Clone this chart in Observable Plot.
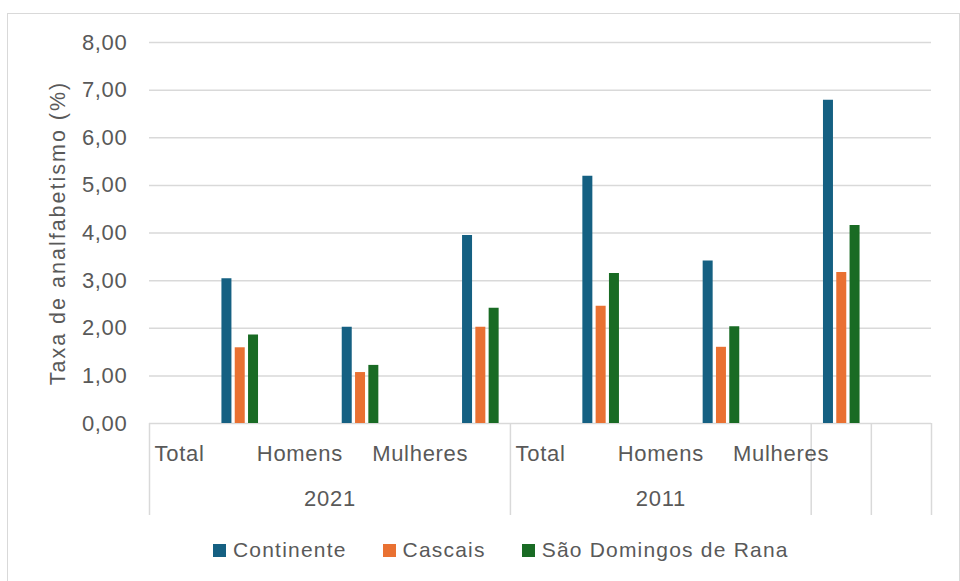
<!DOCTYPE html>
<html>
<head>
<meta charset="utf-8">
<script src="https://cdn.jsdelivr.net/npm/d3@7"></script>
<script src="https://cdn.jsdelivr.net/npm/@observablehq/plot@0.6"></script>
<style>
  body { margin: 0; background: #fff; }
  #chart { position: relative; width: 960px; height: 581px; overflow: hidden; }
  #box { position: absolute; left: 7px; top: 13px; width: 953px; height: 580px; border: 1.5px solid #d9d9d9; box-sizing: border-box; }
  #plot { position: absolute; left: 0; top: 0; }
  #legend { position: absolute; left: 213px; top: 538px; display: flex; align-items: center;
            font-family: "Liberation Sans", Arial, sans-serif; font-size: 21px; letter-spacing: 1.2px; color: #595959; }
  .item { display: flex; align-items: center; margin-right: 36px; }
  .sw { width: 13px; height: 13px; margin-right: 7px; }
</style>
</head>
<body>
<div id="chart">
  <div id="box"></div>
  <div id="plot"></div>
  <div id="legend"></div>
</div>
<script>
// Illiteracy rate (%) by sex, census years 2021 and 2011
const years = ["2021", "2011"];
const sexes = ["Total", "Homens", "Mulheres"];
const seriesNames = ["Continente", "Cascais", "São Domingos de Rana"];
const seriesColors = ["#156082", "#E97132", "#196B24"];

// values per category: 2021 Total, Homens, Mulheres, 2011 Total, Homens, Mulheres
const continente = [3.04, 2.02, 3.95, 5.19, 3.41, 6.79];
const cascais = [1.59, 1.07, 2.02, 2.46, 1.60, 3.17];
const saoDomingos = [1.86, 1.22, 2.42, 3.15, 2.03, 4.16];
const seriesValues = [continente, cascais, saoDomingos];

const yTicks = [0, 1, 2, 3, 4, 5, 6, 7, 8];
const yTitle = "Taxa de analfabetismo (%)";

// category axis: each category takes a label slot followed by a bar slot;
// dividers of the two-level axis sit on these slot boundaries
const axisDividers = [0, 6, 11, 12, 13];
const slotCount = 13;

const categories = years.flatMap((year, yi) =>
  sexes.map((sex, si) => ({ year, sex, k: yi * sexes.length + si }))
);
const yearLabels = years.map((year, i) => ({
  year,
  mid: (axisDividers[i] + axisDividers[i + 1]) / 2
}));

const barWidth = 10;
const barStep = 13.3;
const gridColor = "#d9d9d9";
const textColor = "#595959";

const barMarks = seriesNames.map((name, s) =>
  Plot.ruleX(
    seriesValues[s].map((v, k) => ({ name, k, v })),
    {
      x: (d) => 2 * d.k + 1.5,
      y1: 0,
      y2: "v",
      stroke: seriesColors[s],
      strokeWidth: barWidth,
      dx: (s - 1) * barStep
    }
  )
);

const frameTop = 42;
const frameBottom = 423;
const svgHeight = 530;

const chart = Plot.plot({
  width: 960,
  height: svgHeight,
  marginTop: frameTop,
  marginBottom: svgHeight - frameBottom,
  marginLeft: 149,
  marginRight: 29,
  style: {
    fontFamily: "'Liberation Sans', Arial, sans-serif",
    fontSize: "22px",
    letterSpacing: "0.7px",
    color: textColor,
    background: "transparent"
  },
  x: { domain: [0, slotCount], axis: null },
  y: { domain: [0, 8], axis: null },
  marks: [
    Plot.ruleY(yTicks.slice(1), { stroke: gridColor, strokeWidth: 1.5 }),
    Plot.ruleY([0], { stroke: gridColor, strokeWidth: 1.5 }),
    Plot.ruleX(axisDividers, {
      x: (d) => d,
      stroke: gridColor,
      strokeWidth: 1.5,
      insetTop: frameBottom - frameTop,
      insetBottom: -92
    }),
    ...barMarks,
    Plot.axisY({
      ticks: yTicks,
      tickSize: 0,
      tickPadding: 22,
      tickFormat: (d) => d.toFixed(2).replace(".", ","),
      label: null,
      fontSize: 22
    }),
    Plot.text([yTitle], {
      frameAnchor: "left",
      text: (d) => d,
      rotate: -90,
      dx: -91,
      textAnchor: "middle",
      lineAnchor: "middle",
      fontSize: 21.5
    }),
    Plot.text(categories, {
      x: (d) => 2 * d.k + 0.5,
      y: 0,
      text: "sex",
      dy: 30,
      fontSize: 22,
      fill: textColor
    }),
    Plot.text(yearLabels, {
      x: "mid",
      y: 0,
      text: "year",
      dy: 75,
      fontSize: 22,
      fill: textColor
    })
  ]
});

// the axis title is set a little more loosely than the other labels
d3.select(chart)
  .selectAll("text")
  .filter(function () { return this.textContent === yTitle; })
  .style("letter-spacing", "2px");

document.getElementById("plot").appendChild(chart);

const legend = document.getElementById("legend");
seriesNames.forEach((name, i) => {
  const item = document.createElement("div");
  item.className = "item";
  const sw = document.createElement("span");
  sw.className = "sw";
  sw.style.background = seriesColors[i];
  const label = document.createElement("span");
  label.textContent = name;
  item.appendChild(sw);
  item.appendChild(label);
  legend.appendChild(item);
});
</script>
</body>
</html>
